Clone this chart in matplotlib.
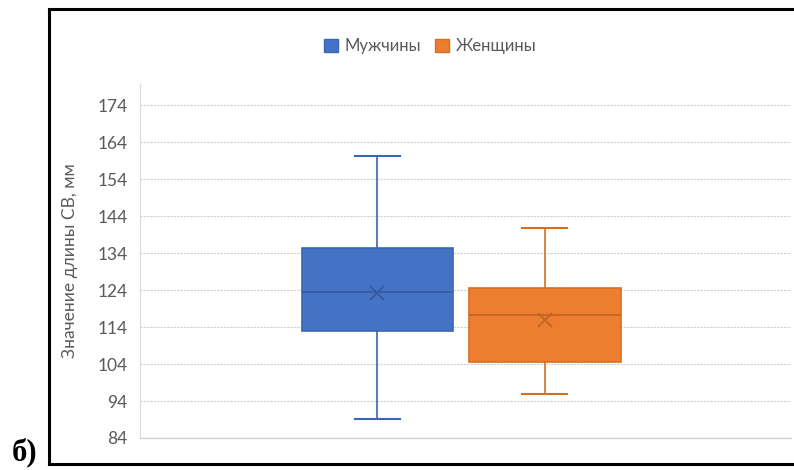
import matplotlib.pyplot as plt
from matplotlib.patches import Patch
from matplotlib.lines import Line2D

# данные (оценены по рисунку)
groups = ['Мужчины', 'Женщины']
q1 = [113.0, 104.5]
med = [123.5, 117.3]
q3 = [135.3, 124.5]
whislo = [89.2, 96.0]
whishi = [160.3, 140.7]
means = [123.2, 116.0]
yticks = [84, 94, 104, 114, 124, 134, 144, 154, 164, 174]

fill = ['#4472C4', '#ED7D31']
edge = ['#3B65B3', '#D5701F']
dark = ['#35599C', '#BF6321']
txt = '#595959'

plt.rcParams['font.family'] = ['Lato', 'DejaVu Sans']

fig = plt.figure(figsize=(7.94, 4.70), dpi=100)
ax = fig.add_axes([140 / 794, 32 / 470, 651 / 794, 354 / 470])

stats = []
for i, g in enumerate(groups):
    stats.append(dict(label=g, q1=q1[i], med=med[i], q3=q3[i],
                      whislo=whislo[i], whishi=whishi[i], mean=means[i], fliers=[]))

for i, s in enumerate(stats):
    ax.bxp([s], positions=[i + 1], widths=0.907, capwidths=0.27,
           patch_artist=True, showmeans=True, showfliers=False,
           boxprops=dict(facecolor=fill[i], edgecolor=edge[i], linewidth=1.2),
           medianprops=dict(color=dark[i], linewidth=1.2),
           whiskerprops=dict(color=edge[i], linewidth=1.2),
           capprops=dict(color=edge[i], linewidth=1.5),
           meanprops=dict(marker='x', markeredgecolor=dark[i], markersize=10,
                          markeredgewidth=1.2))

ax.set_xlim(-0.42, 3.473)
ax.set_ylim(84, 179.7)
ax.set_yticks(yticks)
ax.set_xticks([])
ax.grid(axis='y', color='#D0D0D0', linestyle=(0, (2, 1)), linewidth=0.8)
ax.set_axisbelow(True)
for sp in ['top', 'right']:
    ax.spines[sp].set_visible(False)
ax.spines['left'].set_color('#D9D9D9')
ax.spines['bottom'].set_color('#D0D0D0')
ax.spines['bottom'].set_linewidth(0.9)
ax.tick_params(axis='y', length=0, labelsize=12.5, labelcolor=txt, pad=9)
ax.set_ylabel('Значение длины СВ, мм', fontsize=12.5, color=txt, labelpad=14)

handles = [Patch(facecolor=fill[i], edgecolor=edge[i], label=groups[i]) for i in range(2)]
fig.legend(handles=handles, loc='center', bbox_to_anchor=(430 / 794, 1 - 46 / 470),
           ncol=2, frameon=False, fontsize=12, labelcolor=txt,
           handlelength=0.85, handleheight=0.85, handletextpad=0.4, columnspacing=0.8)

# рамка
fig.add_artist(Line2D([49 / 794, 1], [1 - 9 / 470, 1 - 9 / 470], color='black', lw=2.2))
fig.add_artist(Line2D([49 / 794, 49 / 794], [1 - 9 / 470, 1 - 464 / 470], color='black', lw=2.2))
fig.add_artist(Line2D([49 / 794, 1], [1 - 464 / 470, 1 - 464 / 470], color='black', lw=2.2))

fig.text(12 / 794, 1 - 460 / 470, 'б)', fontsize=22, fontweight='bold',
         family='Liberation Serif', ha='left', va='baseline')

fig.savefig('out.png', dpi=100)
